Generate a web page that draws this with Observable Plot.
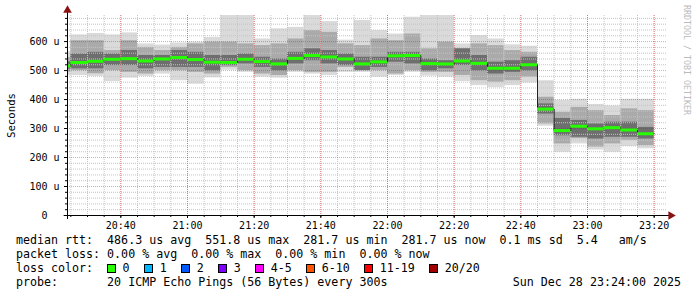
<!DOCTYPE html>
<html><head><meta charset="utf-8">
<script src="https://cdn.jsdelivr.net/npm/d3@7"></script>
<script src="https://cdn.jsdelivr.net/npm/@observablehq/plot@0.6"></script>
<style>
html,body{margin:0;padding:0;background:#fff;width:697px;height:297px;overflow:hidden;position:relative}
#chart svg{display:block}
#legend{font-family:"DejaVu Sans Mono",monospace;font-size:11.65px;line-height:14px;white-space:pre;padding:0 16px;margin-top:1px;color:#000}
.row{display:flex;justify-content:space-between}
.sw{display:inline-block;width:9px;height:9px;box-sizing:border-box;border:1px solid #000;margin-right:6.5px;vertical-align:-1px}
.item{margin-right:14.5px}
#wm{position:absolute;left:683px;top:5px;writing-mode:vertical-rl;font-family:"DejaVu Sans Mono",monospace;font-size:8.3px;color:#bbb;line-height:8px;white-space:pre}
</style></head><body>
<div id="chart"></div><div id="legend"></div><div id="wm"></div>
<script>
// ---- data (5-minute steps, labelled by step end time) ----
const firstStart = "20:20";
const ends = ["20:25","20:30","20:35","20:40","20:45","20:50","20:55","21:00","21:05","21:10","21:15","21:20",
  "21:25","21:30","21:35","21:40","21:45","21:50","21:55","22:00","22:05","22:10","22:15","22:20",
  "22:25","22:30","22:35","22:40","22:45","22:50","22:55","23:00","23:05","23:10","23:15","23:20"];
// median rtt (us)
const median = [516,528,532,539,541,533,540,545,538,529,528,539,531,523,542,552,547,540,523,530,551,552,524,523,533,525,508,508,520,367,293,308,299,303,295,282];
// smoke envelope: outer, middle, inner bands (us)
const hi1 = [565,623,628,623,630,592,588,595,598,614,690,690,609,644,649,690,669,605,673,638,626,684,690,690,592,621,609,589,584,465,397,401,383,378,401,401];
const lo1 = [483,483,480,462,474,480,488,465,453,475,501,494,477,474,494,488,483,494,494,477,483,494,481,477,462,448,441,448,457,308,218,247,226,218,238,230];
const hi2 = [545,603,603,569,603,580,569,580,592,598,598,592,586,592,609,638,632,592,586,609,603,626,575,598,575,592,586,569,563,408,356,373,362,345,368,362];
const lo2 = [495,500,489,500,494,488,500,500,494,488,511,500,488,483,500,494,494,511,500,500,488,500,494,494,483,465,460,465,477,316,247,265,236,247,259,241];
const hi3 = [530,557,563,557,569,552,552,569,563,552,552,557,546,540,563,575,569,557,546,546,563,563,540,534,575,552,529,534,546,385,335,328,316,322,322,304];
const lo3 = [505,506,506,517,517,506,511,511,511,500,517,523,511,500,523,534,523,517,500,511,529,523,500,506,517,500,488,494,500,350,275,270,264,270,270,264];

const xTicks = ["20:40","21:00","21:20","21:40","22:00","22:20","22:40","23:00","23:20"];
const yTicks = [0,100,200,300,400,500,600];
const viewStart = "20:24", viewEnd = "23:24";

const medianStats = ["486.3 us avg","551.8 us max","281.7 us min","281.7 us now","0.1 ms sd","5.4   am/s"];
const lossStats = ["0.00 % avg","0.00 % max","0.00 % min","0.00 % now"];
const lossLabels = ["0","1","2","3","4-5","6-10","11-19","20/20"];
const lossColors = ["#26ff00","#00b8ff","#0059ff","#7e00ff","#ff00ff","#ff5500","#ff0000","#a10000"];
const probeText = "20 ICMP Echo Pings (56 Bytes) every 300s";
const dateText = "Sun Dec 28 23:24:00 2025";
const watermark = "RRDTOOL / TOBI OETIKER";

// ---- build ----
const t = s => { const [h, m] = s.split(":").map(Number); return new Date(Date.UTC(2025, 11, 28, h, m)); };
const table = ends.map((e, i) => ({
  start: t(i === 0 ? firstStart : ends[i - 1]), end: t(e),
  median: median[i], hi1: hi1[i], lo1: lo1[i], hi2: hi2[i], lo2: lo2[i], hi3: hi3[i], lo3: lo3[i]
}));
const x0 = t(viewStart), x1 = t(viewEnd);
const minorY = d3.range(20, 690, 20).filter(v => v % 100 !== 0);
const every5 = d3.utcMinute.every(5);
const axisFont = {fontFamily: "DejaVu Sans Mono, monospace", fontSize: 10};
const noLabel = () => "";

const plot = Plot.plot({
  width: 697, height: 232,
  marginLeft: 67, marginRight: 30, marginTop: 15, marginBottom: 17,
  x: {type: "utc", domain: [x0, x1], label: null},
  y: {domain: [0, 690], label: null},
  style: {background: "white", overflow: "visible", fontFamily: "DejaVu Sans Mono, monospace", fontSize: "10px", color: "#000"},
  marks: [
    Plot.rect(table, {x1: "start", x2: "end", y1: "lo1", y2: "hi1", fill: "#dadada", clip: true}),
    Plot.rect(table, {x1: "start", x2: "end", y1: "lo2", y2: "hi2", fill: "#aaaaaa", clip: true}),
    Plot.rect(table, {x1: "start", x2: "end", y1: "lo3", y2: "hi3", fill: "#6e6e6e", clip: true}),
    Plot.gridX({ticks: every5, stroke: "#c4c4c4", strokeOpacity: 1, strokeDasharray: "1,1"}),
    Plot.gridY({ticks: minorY, stroke: "#c4c4c4", strokeOpacity: 1, strokeDasharray: "1,1"}),
    Plot.gridX({ticks: xTicks.map(t), stroke: "#ff0000", strokeOpacity: 0.4, strokeDasharray: "1,1"}),
    Plot.gridY({ticks: yTicks.slice(1), stroke: "#ff0000", strokeOpacity: 0.4, strokeDasharray: "1,1"}),
    Plot.line(table, {x: "end", y: "median", curve: "step-before", stroke: "#202020", strokeWidth: 1, clip: true}),
    Plot.ruleY(table, {x1: "start", x2: "end", y: "median", stroke: lossColors[0], strokeWidth: 3, clip: true}),
    // axes
    Plot.axisX({ticks: every5, tickSize: 2, tickFormat: noLabel, stroke: "#000"}),
    Plot.axisX({ticks: xTicks.map(t), tickSize: 3, tickPadding: 3, tickFormat: d3.utcFormat("%H:%M"), ...axisFont, fill: "#000"}),
    Plot.axisY({ticks: minorY, tickSize: 2, tickFormat: noLabel, stroke: "#000"}),
    Plot.axisY({ticks: yTicks, tickSize: 3, tickPadding: 5, tickFormat: d => d === 0 ? "0\u00a0\u00a0" : d + " u", ...axisFont, fill: "#000"}),
    Plot.ruleY([0], {x1: () => d3.utcMinute.offset(x0, -1), x2: () => d3.utcMinute.offset(x1, 1), stroke: "#000"}),
    Plot.ruleX([x0], {y1: -14, y2: 712, stroke: "#000"}),
    Plot.dot([0], {x: () => d3.utcMinute.offset(x1, 1), y: 0, symbol: "triangle", rotate: 90, r: 3.2, fill: "#8b1010", stroke: null}),
    Plot.dot([0], {x: () => x0, y: () => 708, symbol: "triangle", r: 3.2, fill: "#8b1010", stroke: null}),
    Plot.text(["Seconds"], {frameAnchor: "left", rotate: -90, dx: -56, textAnchor: "middle", lineAnchor: "middle", fontFamily: "DejaVu Sans Mono, monospace", fontSize: 10.7, fill: "#000"})
  ]
});
document.getElementById("chart").append(plot);

// ---- legend ----
const lg = document.getElementById("legend");
const row = html => { const d = document.createElement("div"); d.className = "row"; d.innerHTML = html; lg.append(d); };
row(`<span>median rtt:  ${medianStats.join("  ")}</span>`);
row(`<span>packet loss: ${lossStats.join("  ")}</span>`);
row(`<span>loss color:  ${lossLabels.map((l, i) => `<span class="sw" style="background:${lossColors[i]}"></span><span class="item">${l}</span>`).join("")}</span>`);
row(`<span>probe:       ${probeText}</span><span>${dateText}</span>`);
document.getElementById("wm").textContent = watermark;
</script>
</body></html>
